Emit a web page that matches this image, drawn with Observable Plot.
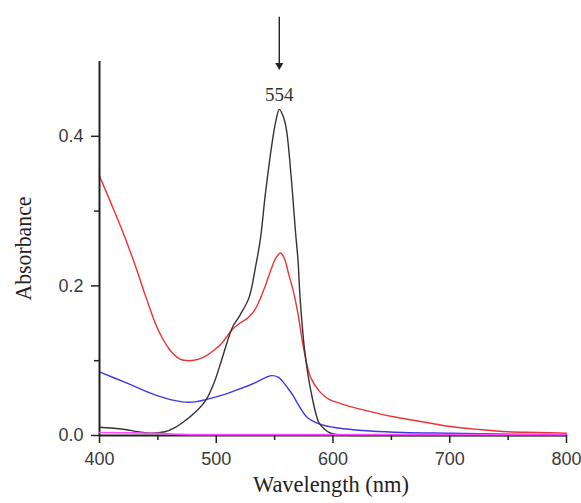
<!DOCTYPE html>
<html><head><meta charset="utf-8">
<script src="https://cdn.jsdelivr.net/npm/d3@7"></script>
<script src="https://cdn.jsdelivr.net/npm/@observablehq/plot@0.6"></script>
<style>body{margin:0;background:#fff} #chart{width:581px;height:503px}</style>
</head><body><div id="chart"></div>
<script>
// Wavelength (nm) / absorbance for each trace
const redWl  = [400,410,420,430,440,450,460,469,477,485,492,498,504,514,520,527,533,538,542,546.5,551,555,558,562,566,570,575,581,589,597,606,614,624,640,652,670,685,700,725,750,775,800];
const redAbs = [0.347,0.31,0.272,0.23,0.184,0.142,0.115,0.102,0.1,0.102,0.107,0.114,0.122,0.142,0.15,0.157,0.168,0.184,0.2,0.22,0.237,0.244,0.238,0.216,0.193,0.163,0.115,0.077,0.058,0.048,0.043,0.039,0.035,0.029,0.025,0.02,0.016,0.012,0.008,0.005,0.004,0.003];

const blackWl  = [400,410,422,433,444,456,465,471,482,491,498,504,509,514,520,528,533.5,538,542,548,551,554,557,560,564,568,570,572,576,581,588,593,598,605,620,650,700,750,800];
const blackAbs = [0.011,0.01,0.008,0.005,0.003,0.005,0.011,0.017,0.031,0.047,0.07,0.098,0.123,0.145,0.16,0.184,0.224,0.265,0.322,0.393,0.42,0.436,0.428,0.41,0.349,0.27,0.235,0.18,0.11,0.06,0.017,0.008,0.003,0.001,0,0,0,0,0];

const blueWl  = [400,422,448,471,482,491,505,516,534,543,548,553,557,561,566,570,578,589,600,609,632,660,700,740,800];
const blueAbs = [0.085,0.071,0.054,0.045,0.045,0.048,0.054,0.06,0.071,0.078,0.08,0.078,0.072,0.064,0.053,0.042,0.024,0.015,0.011,0.009,0.006,0.004,0.003,0.002,0.001];

const magentaWl  = [400,430,456,470,500,600,700,800];
const magentaAbs = [0.004,0.0035,0.0025,0.0015,0.0012,0.0012,0.0012,0.0012];

const xMajor = [400,500,600,700,800];
const xMinor = [450,550,650,750];
const yMajor = [0,0.2,0.4];
const yMinor = [0.1,0.3];

const peakWl = 554;
const peakLabel = "554";
const arrowTop = 0.559, arrowBottom = 0.495, labelAbs = 0.456;
const yTitle = "Absorbance", xTitle = "Wavelength (nm)";

const toRows = (wl, ab) => wl.map((w, i) => ({wl: w, abs: ab[i]}));
const series = [
  {rows: toRows(blueWl, blueAbs), color: "#3a3ae6"},
  {rows: toRows(redWl, redAbs), color: "#ee3232"},
  {rows: toRows(blackWl, blackAbs), color: "#333333"}
];
const serif = "'Liberation Serif', 'Times New Roman', serif";

const plot = Plot.plot({
  width: 581, height: 503,
  marginLeft: 99, marginRight: 15, marginTop: 61, marginBottom: 68,
  x: {domain: [400, 800]},
  y: {domain: [0, 0.5]},
  style: {background: "#fff", fontFamily: "'Liberation Sans', Arial, sans-serif", fontSize: "18px", color: "#3a3a3a"},
  marks: [
    ...series.map(s => Plot.line(s.rows, {x: "wl", y: "abs", stroke: s.color, strokeWidth: 1.4, curve: "catmull-rom"})),
    Plot.ruleX([400], {stroke: "#222", strokeWidth: 2}),
    Plot.ruleY([0], {stroke: "#222", strokeWidth: 2}),
    Plot.line(toRows(magentaWl, magentaAbs), {x: "wl", y: "abs", stroke: "#ff48ff", strokeWidth: 1.6, curve: "catmull-rom"}),
    Plot.axisX({ticks: xMajor, tickSize: 8, tickPadding: 9, tickFormat: d => String(d), label: null, stroke: "#222", strokeWidth: 1.5}),
    Plot.axisX({ticks: xMinor, tickSize: 5, tickFormat: () => "", label: null, stroke: "#222", strokeWidth: 1.5}),
    Plot.axisY({ticks: yMajor, tickSize: 8, tickPadding: 8, tickFormat: d3.format(".1f"), label: null, stroke: "#222", strokeWidth: 1.5}),
    Plot.axisY({ticks: yMinor, tickSize: 5, tickFormat: () => "", label: null, stroke: "#222", strokeWidth: 1.5}),
    Plot.ruleX([peakWl], {y1: arrowTop, y2: arrowBottom, stroke: "#222", strokeWidth: 1.4, clip: false}),
    Plot.dot([peakWl], {x: d => d, y: arrowBottom, symbol: "triangle", r: 3, rotate: 180, fill: "#222", stroke: "none"}),
    Plot.text([peakLabel], {x: peakWl, y: labelAbs, text: d => d, fontFamily: serif, fontSize: 19, fill: "#333"}),
    Plot.text([yTitle], {frameAnchor: "left", textAnchor: "middle", dx: -76, dy: 0, rotate: -90, fontFamily: serif, fontSize: 24, fill: "#222"}),
    Plot.text([xTitle], {frameAnchor: "bottom", dx: -2, dy: 56, fontFamily: serif, fontSize: 24, fill: "#222"})
  ]
});
// condense the serif titles to the narrow width they have in the original
d3.select(plot).selectAll("text").each(function () {
  const t = this.textContent;
  if (t === yTitle) d3.select(this).attr("textLength", 104).attr("lengthAdjust", "spacingAndGlyphs");
  if (t === xTitle) d3.select(this).attr("textLength", 156).attr("lengthAdjust", "spacingAndGlyphs");
});
document.getElementById("chart").appendChild(plot);
</script>
</body></html>
